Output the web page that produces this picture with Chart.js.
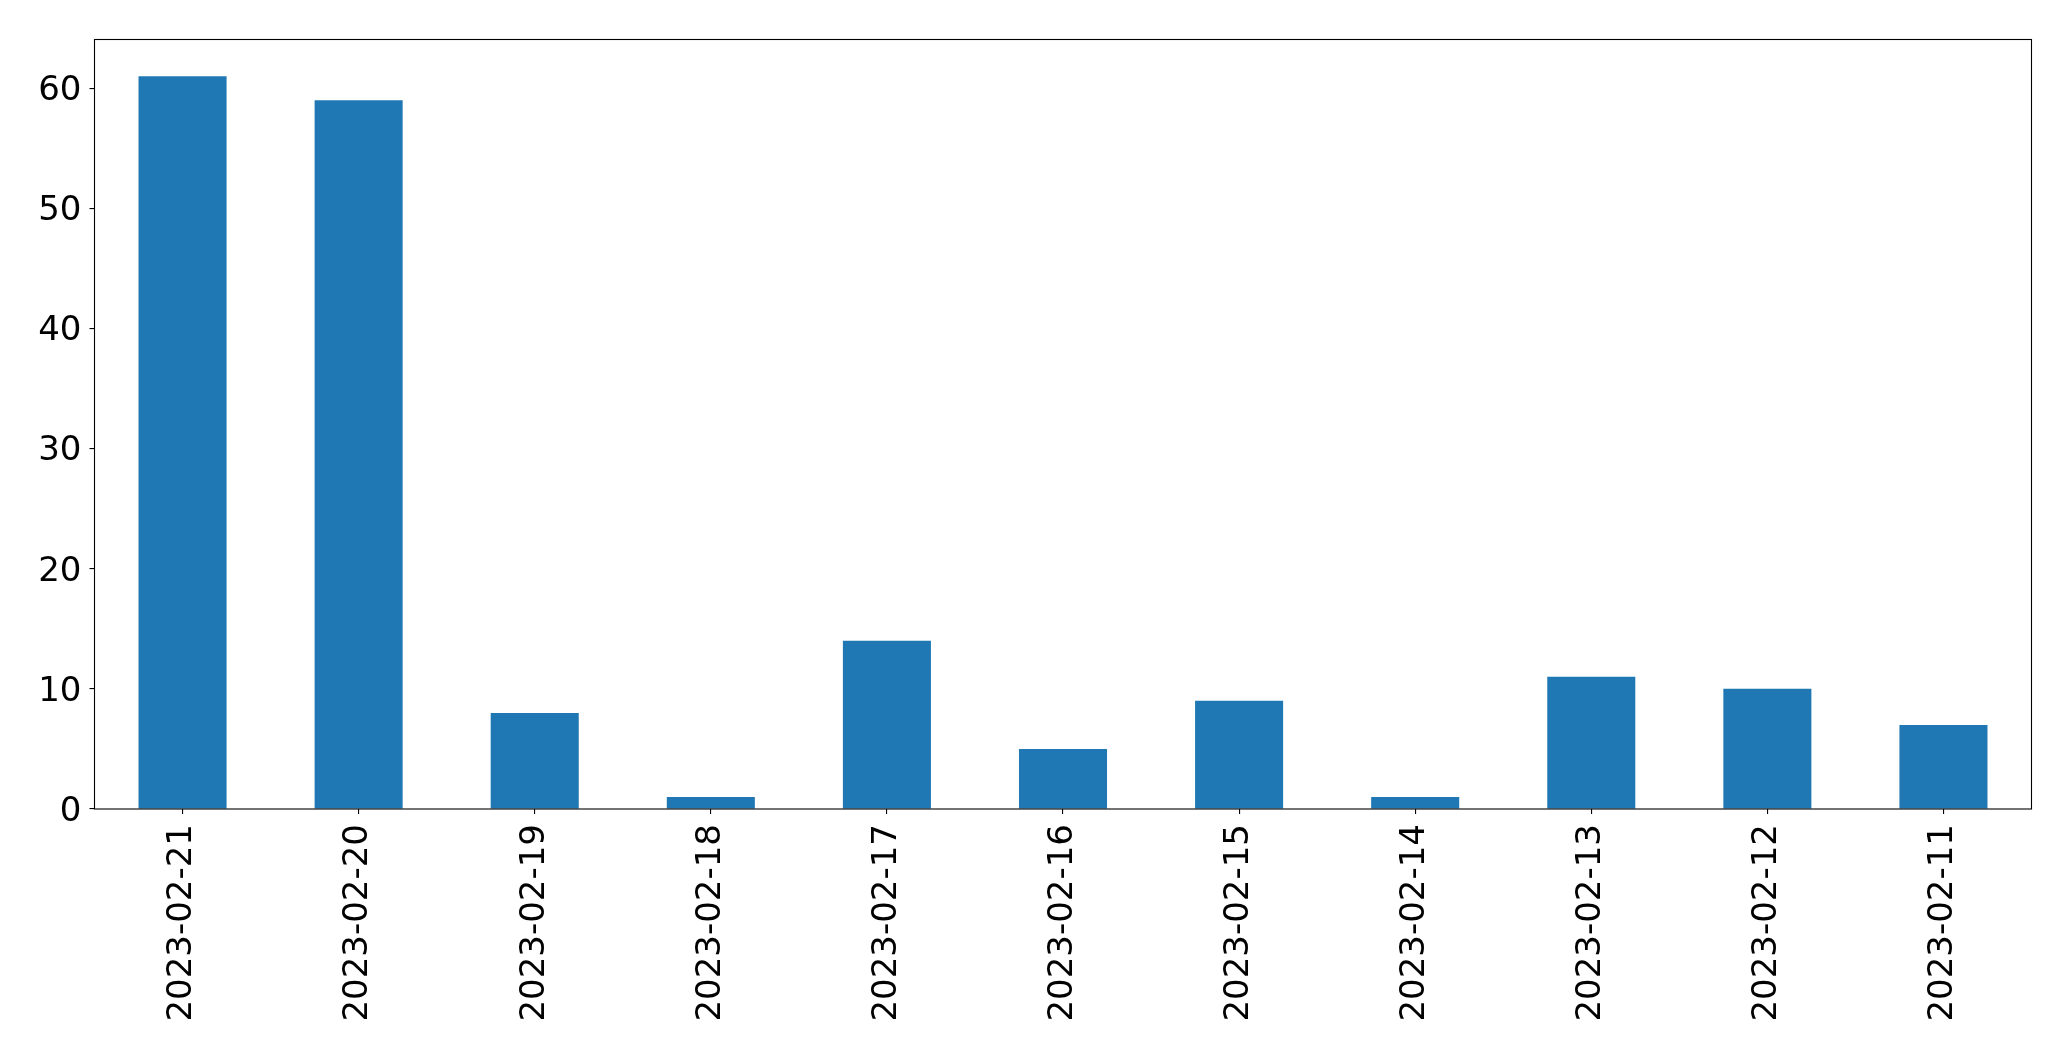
<!DOCTYPE html>
<html>
<head>
<meta charset="utf-8">
<script src="https://cdn.jsdelivr.net/npm/chart.js@4/dist/chart.umd.min.js"></script>
<style>
html,body{margin:0;padding:0;background:#fff;}
canvas{display:block;}
</style>
</head>
<body>
<canvas id="c" width="2071" height="1061"></canvas>
<script>
const categories = ["2023-02-21","2023-02-20","2023-02-19","2023-02-18","2023-02-17","2023-02-16","2023-02-15","2023-02-14","2023-02-13","2023-02-12","2023-02-11"];
const values = [61, 59, 8, 1, 14, 5, 9, 1, 11, 10, 7];
const yTicks = [0, 10, 20, 30, 40, 50, 60];

const frame = {
  id: 'frame',
  afterDraw(chart) {
    const a = chart.chartArea, ctx = chart.ctx;
    ctx.save();
    ctx.strokeStyle = '#000';
    ctx.lineWidth = 1.1;
    ctx.strokeRect(a.left, a.top, a.right - a.left, a.bottom - a.top);
    ctx.restore();
  }
};

new Chart(document.getElementById('c'), {
  type: 'bar',
  data: {
    labels: categories,
    datasets: [{
      data: values,
      backgroundColor: '#1f77b4',
      borderWidth: 0,
      barPercentage: 0.5,
      categoryPercentage: 1.0
    }]
  },
  options: {
    responsive: false,
    animation: false,
    devicePixelRatio: 1,
    layout: { padding: { left: 0, right: 39.5, top: 39.5, bottom: 0 } },
    plugins: { legend: { display: false }, tooltip: { enabled: false } },
    scales: {
      x: {
        offset: true,
        grid: { display: true, offset: false, drawOnChartArea: false, drawTicks: true, tickLength: 5, color: '#000', lineWidth: 1.1 },
        border: { display: false },
        ticks: {
          color: '#000',
          font: { family: 'DejaVu Sans', size: 34 },
          minRotation: 90, maxRotation: 90,
          padding: 10,
          autoSkip: false
        },
        afterFit(scale) { scale.height = 252; }
      },
      y: {
        min: 0,
        max: 64.05,
        afterBuildTicks(scale) { scale.ticks = yTicks.map(v => ({ value: v })); },
        grid: { display: true, drawOnChartArea: false, drawTicks: true, tickLength: 5, color: '#000', lineWidth: 1.1 },
        border: { display: false },
        ticks: {
          color: '#000',
          font: { family: 'DejaVu Sans', size: 34 },
          padding: 8,
          labelOffset: 3
        },
        afterFit(scale) { scale.width = 94.5; }
      }
    }
  },
  plugins: [frame]
});
</script>
</body>
</html>
